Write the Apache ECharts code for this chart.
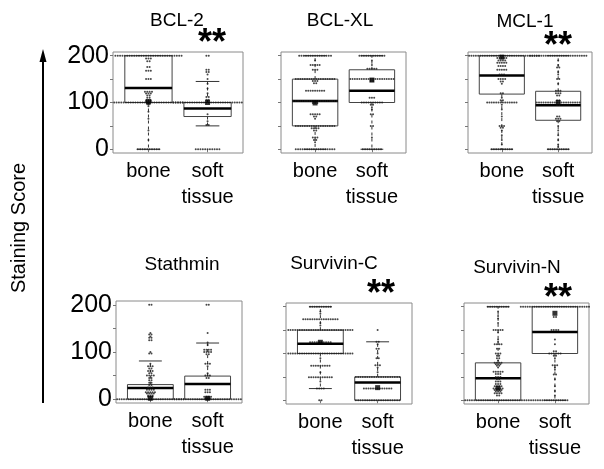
<!DOCTYPE html>
<html><head><meta charset="utf-8">
<script src="https://cdn.jsdelivr.net/npm/echarts@6/dist/echarts.min.js"></script>
<style>html,body{margin:0;padding:0;background:#fff}#c{width:604px;height:469px}</style>
</head><body><div id="c"></div>
<script>
// ---------- data ----------
const panelTitles = ['BCL-2', 'BCL-XL', 'MCL-1', 'Stathmin', 'Survivin-C', 'Survivin-N'];
const categories = ['bone', 'soft tissue'];
const yTickValues = [0, 50, 100, 150, 200];
const yLabelValues = [0, 100, 200];
const significant = [true, false, true, false, true, true];

// box stats per group: [min, q1, median, q3, max]
const bcl2Box = [[0, 100, 131, 200, 200], [50, 70, 87, 100, 145]];
const bclxlBox = [[0, 50, 103, 150, 200], [0, 100, 125, 170, 200]];
const mcl1Box = [[0, 118, 158, 200, 200], [0, 62, 94, 124, 200]];
const stathBox = [[0, 0, 24, 31, 81], [0, 0, 32, 49, 119]];
const survCBox = [[25, 100, 121, 150, 200], [0, 0, 38, 50, 125]];
const survNBox = [[0, 0, 47, 80, 200], [0, 100, 146, 200, 200]];

// mean markers per group
const bcl2Mean = [102, 100];
const bclxlMean = [99, 148];
const mcl1Mean = [197, 100];
const stathMean = [2, 2];
const survCMean = [124, 27];
const survNMean = [26, 186];

// dots per group: [value, count]
const bcl2Bone = [[200,29],[194,3],[188,2],[176,2],[168,3],[150,3],[123,4],[119,3],[115,2],[110,2],[105,3],[102,3],[100,30],[96,2],[92,1],[80,1],[65,1],[40,1],[20,1],[0,10]];
const bcl2Soft = [[200,2],[170,2],[165,2],[160,1],[150,1],[140,1],[130,1],[120,1],[112,2],[106,2],[100,30],[75,1],[60,1],[52,2],[0,11]];
const bclxlBone = [[200,15],[190,1],[180,5],[170,3],[150,18],[146,3],[141,2],[125,9],[103,20],[99,3],[75,5],[70,2],[65,1],[50,18],[45,4],[40,2],[25,3],[20,2],[15,1],[0,18]];
const bclxlSoft = [[200,12],[190,1],[180,1],[172,5],[150,20],[146,2],[110,3],[100,10],[95,2],[90,1],[85,1],[75,2],[50,2],[25,1],[0,9]];
const mcl1Bone = [[200,34],[195,5],[190,4],[185,5],[178,4],[170,5],[160,3],[150,4],[145,2],[140,1],[120,2],[110,1],[105,2],[100,14],[95,1],[85,1],[70,1],[50,3],[46,2],[40,1],[30,1],[20,1],[10,1],[0,10]];
const mcl1Soft = [[200,26],[190,1],[180,1],[175,2],[165,1],[160,1],[150,2],[140,1],[125,3],[120,3],[115,2],[105,2],[100,20],[95,2],[70,2],[65,3],[60,2],[50,1],[40,1],[30,1],[20,1],[10,1],[5,1],[0,10]];
const stathBone = [[200,2],[140,1],[137,2],[133,1],[130,2],[125,2],[100,1],[97,2],[75,1],[70,3],[65,2],[60,3],[55,2],[50,4],[45,2],[40,2],[35,2],[30,2],[25,3],[20,4],[15,5],[12,4],[8,3],[5,3],[0,30]];
const stathSoft = [[200,2],[140,1],[120,1],[115,1],[105,4],[100,4],[95,2],[75,3],[70,1],[55,1],[50,3],[45,2],[20,3],[15,3],[5,4],[2,3],[0,30]];
const survCBone = [[200,10],[190,1],[185,1],[173,16],[165,1],[160,1],[150,29],[124,10],[100,29],[90,1],[74,9],[60,1],[49,11],[40,1],[25,4],[0,2]];
const survCSoft = [[150,1],[125,2],[120,1],[110,2],[100,1],[90,2],[75,3],[70,1],[60,1],[50,20],[25,13],[0,20]];
const survNBone = [[200,10],[190,1],[180,1],[175,1],[165,1],[150,5],[145,1],[130,1],[125,1],[120,4],[110,2],[100,3],[95,2],[90,2],[85,1],[80,4],[77,3],[74,2],[70,1],[61,5],[56,3],[50,3],[45,2],[40,3],[35,3],[30,4],[25,5],[22,4],[19,3],[15,4],[10,2],[0,38]];
const survNSoft = [[200,31],[178,2],[150,4],[130,1],[120,1],[105,2],[100,6],[95,2],[90,1],[75,3],[70,1],[65,1],[55,2],[45,1],[30,1],[20,1],[10,1],[0,12]];

const boxes = [bcl2Box, bclxlBox, mcl1Box, stathBox, survCBox, survNBox];
const means = [bcl2Mean, bclxlMean, mcl1Mean, stathMean, survCMean, survNMean];
const dots = [[bcl2Bone, bcl2Soft], [bclxlBone, bclxlSoft], [mcl1Bone, mcl1Soft], [stathBone, stathSoft], [survCBone, survCSoft], [survNBone, survNSoft]];

// ---------- layout ----------
const FONT = 'Liberation Sans, Arial, sans-serif';
const gridPos = [
  {left: 113, top: 52, width: 130, height: 101},
  {left: 281, top: 52, width: 125, height: 101},
  {left: 468, top: 52, width: 124, height: 101},
  {left: 116, top: 301, width: 126, height: 102},
  {left: 286, top: 303, width: 126, height: 101},
  {left: 464, top: 303, width: 125, height: 101}
];
const titlePos = [[177, 21], [340, 21], [525, 22], [182, 265], [334, 264], [517, 268]];
const starPos = [[212, 44], null, [558, 47], null, [381, 295], [558, 299]];
const DOT_STEP = 0.04;

const grid = [], xAxis = [], yAxis = [], series = [];
gridPos.forEach((g, i) => {
  grid.push(Object.assign({show: true, borderColor: '#8a8a8a', borderWidth: 1, backgroundColor: 'transparent'}, g));
  xAxis.push({
    type: 'value', gridIndex: i, min: 0.4, max: 2.6,
    axisLine: {show: false}, splitLine: {show: false},
    axisTick: {show: true, customValues: [1, 2], length: 3, lineStyle: {color: '#777'}},
    axisLabel: {show: true, customValues: [1, 2], margin: 5, color: '#000', fontFamily: FONT, fontSize: 20, lineHeight: 26,
      verticalAlign: 'top',
      formatter: v => v === 1 ? categories[0] : categories[1].replace(' ', '\n')}
  });
  const leftCol = i % 3 === 0;
  yAxis.push({
    type: 'value', gridIndex: i, min: -8, max: 208,
    axisLine: {show: false}, splitLine: {show: false},
    axisTick: {show: true, customValues: yTickValues, length: 3, lineStyle: {color: '#777'}},
    axisLabel: {show: leftCol, customValues: yLabelValues, margin: 4, color: '#000', fontFamily: FONT, fontSize: 25}
  });
  // boxes
  series.push({
    type: 'custom', xAxisIndex: i, yAxisIndex: i, z: 2, silent: true,
    data: boxes[i].map((b, k) => [k + 1].concat(b)),
    renderItem: (params, api) => {
      const x = api.value(0);
      const mn = api.value(1), q1 = api.value(2), md = api.value(3), q3 = api.value(4), mx = api.value(5);
      const p = v => api.coord([x, v]);
      const hw = api.size([0.4, 0])[0];
      const sw = hw / 2;
      const px = p(md)[0];
      const yq1 = p(q1)[1], yq3 = p(q3)[1], ymd = p(md)[1], ymn = p(mn)[1], ymx = p(mx)[1];
      const dash = {stroke: '#333', lineWidth: 1, lineDash: [3, 3]};
      const solid = {stroke: '#333', lineWidth: 1};
      return {type: 'group', children: [
        {type: 'line', shape: {x1: px, y1: yq3, x2: px, y2: ymx}, style: dash},
        {type: 'line', shape: {x1: px, y1: yq1, x2: px, y2: ymn}, style: dash},
        {type: 'line', shape: {x1: px - sw, y1: ymx, x2: px + sw, y2: ymx}, style: solid},
        {type: 'line', shape: {x1: px - sw, y1: ymn, x2: px + sw, y2: ymn}, style: solid},
        {type: 'rect', shape: {x: px - hw, y: yq3, width: 2 * hw, height: yq1 - yq3}, style: {fill: '#fff', stroke: '#444', lineWidth: 1}},
        {type: 'line', shape: {x1: px - hw, y1: ymd, x2: px + hw, y2: ymd}, style: {stroke: '#000', lineWidth: 2.5}}
      ]};
    }
  });
  // dots
  const pts = [];
  dots[i].forEach((rows, gi) => {
    rows.forEach(([v, n]) => {
      for (let k = 0; k < n; k++) pts.push([gi + 1 + (k - (n - 1) / 2) * DOT_STEP, v]);
    });
  });
  series.push({type: 'scatter', xAxisIndex: i, yAxisIndex: i, z: 5, silent: true, clip: true,
    symbol: 'circle', symbolSize: 2, itemStyle: {color: '#1a1a1a'}, data: pts});
  series.push({type: 'scatter', xAxisIndex: i, yAxisIndex: i, z: 6, silent: true,
    symbol: 'rect', symbolSize: 5, itemStyle: {color: '#000'},
    data: means[i].map((m, k) => [k + 1, m])});
});

const graphic = [];
panelTitles.forEach((t, i) => {
  graphic.push({type: 'text', x: titlePos[i][0], y: titlePos[i][1], silent: true,
    style: {text: t, font: '19px ' + FONT, fill: '#000', align: 'center', verticalAlign: 'middle'}});
  if (significant[i]) {
    graphic.push({type: 'text', x: starPos[i][0], y: starPos[i][1], silent: true,
      style: {text: '**', font: 'bold 36px ' + FONT, fill: '#000', align: 'center', verticalAlign: 'middle'}});
  }
});
// arrow
graphic.push({type: 'line', silent: true, shape: {x1: 43, y1: 403, x2: 43, y2: 58}, style: {stroke: '#000', lineWidth: 2}});
graphic.push({type: 'polygon', silent: true, shape: {points: [[43, 49], [39.5, 62], [46.5, 62]]}, style: {fill: '#000'}});
graphic.push({type: 'text', silent: true, x: 19, y: 228, rotation: Math.PI / 2,
  style: {text: 'Staining Score', font: '20px ' + FONT, fill: '#000', align: 'center', verticalAlign: 'middle'}});

const chart = echarts.init(document.getElementById('c'), null, {renderer: 'canvas'});
chart.setOption({animation: false, grid, xAxis, yAxis, series, graphic});
</script></body></html>
